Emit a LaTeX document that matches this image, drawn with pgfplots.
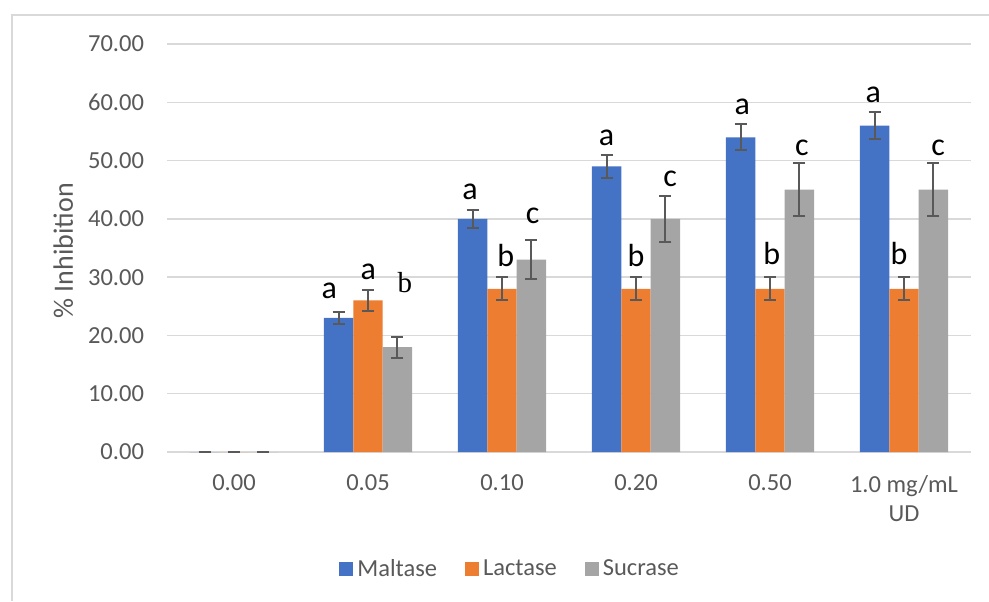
\documentclass[border=0pt]{standalone}
\usepackage{pgfplots}
\usepackage{pgfplotstable}
\pgfplotsset{compat=1.18}
\usepackage{fontspec}
\setmainfont{Carlito}
\newfontfamily\serifb{Liberation Serif}
\definecolor{maltase}{HTML}{4472C4}
\definecolor{lactase}{HTML}{ED7D31}
\definecolor{sucrase}{HTML}{A5A5A5}
\definecolor{errgray}{HTML}{595959}
\definecolor{gridgray}{HTML}{D9D9D9}
\definecolor{ticklbl}{HTML}{595959}

% x y e lx ly l
\pgfplotstableread{
x y e lx ly l
0 0 0 0 0 -
1 23 1.0 0.711 26.25 a
2 40 1.6 1.761 43.2 a
3 49 2.0 2.781 52.55 a
4 54 2.2 3.793 57.8 a
5 56 2.3 4.771 59.8 a
}\maltase
\pgfplotstableread{
x y e lx ly l
0 0 0 0 0 -
1 26 1.8 1.002 29.5 a
2 28 2.0 2.028 31.8 b
3 28 2.0 3.000 31.7 b
4 28 2.0 4.013 32.1 b
5 28 2.0 4.963 32.1 b
}\lactase
\pgfplotstableread{
x y e lx ly l
0 0 0 0 0 -
1 18 1.8 1.276 27.3 b
2 33 3.3 2.229 39.1 c
3 40 4.0 3.254 45.4 c
4 45 4.5 4.237 50.8 c
5 45 4.5 5.254 50.8 c
}\sucrase

\begin{document}
\begin{tikzpicture}
\useasboundingbox (0,0) rectangle (494.5pt,300.5pt);
\draw[gridgray, line width=1pt] (5.8pt,0) -- (5.8pt,293pt) -- (494.5pt,293pt);
\begin{axis}[
  at={(83.5pt,74.5pt)}, anchor=south west,
  scale only axis, width=402pt, height=204pt,
  ybar, bar width=0.219,
  xmin=-0.5, xmax=5.5, ymin=0, ymax=70,
  xtick={0,1,2,3,4,5},
  xticklabels={0.00,0.05,0.10,0.20,0.50,{1.0 mg/mL\\UD}},
  ytick={0,10,20,30,40,50,60,70},
  /pgf/number format/.cd, fixed, fixed zerofill, precision=2, assume math mode=true,
  /pgfplots/.cd,
  axis line style={draw=none},
  major tick length=0pt,
  ymajorgrids, grid style={gridgray, line width=0.75pt},
  tick label style={text=ticklbl, font=\fontsize{12.25}{14.7}\selectfont},
  xticklabel style={align=center, yshift=-8pt},
  yticklabel style={xshift=-8pt},
  ylabel={\% Inhibition},
  ylabel style={at={(axis description cs:-0.129,0.493)}, anchor=center, rotate=0, text=ticklbl, font=\fontsize{14}{16}\selectfont},
  legend style={at={(axis description cs:0.428,-0.287)}, anchor=center, draw=none, fill=none,
    legend columns=-1, font=\fontsize{12.25}{14}\selectfont, text=ticklbl,
    /tikz/every even column/.append style={column sep=12pt}},
  legend image code/.code={\fill[#1] (0pt,-3.5pt) rectangle (7pt,3.5pt);},
  clip=false,
  lbl/.style={forget plot, draw=none, fill=none, bar shift=0, nodes near coords, point meta=explicit symbolic,
    every node near coord/.append style={anchor=south, inner sep=0pt, text=black, font=\fontsize{16}{18}\selectfont}},
  ebar/.style={error bars/.cd, y dir=both, y explicit,
    error bar style={line width=1pt, errgray},
    error mark options={rotate=90, mark size=3pt, line width=1pt, errgray}},
]
\addplot[bar shift=-0.219, fill=maltase, draw=none, ebar]
  table[x=x, y=y, y error=e] {\maltase};
\addlegendentry{Maltase}
\addplot[bar shift=0, fill=lactase, draw=none, ebar]
  table[x=x, y=y, y error=e] {\lactase};
\addlegendentry{Lactase}
\addplot[bar shift=0.219, fill=sucrase, draw=none, ebar]
  table[x=x, y=y, y error=e] {\sucrase};
\addlegendentry{Sucrase}

\addplot[lbl, skip coords between index={0}{1}]
  table[x=lx, y=ly, meta=l] {\maltase};
\addplot[lbl, skip coords between index={0}{1}]
  table[x=lx, y=ly, meta=l] {\lactase};
\addplot[lbl, skip coords between index={0}{2}]
  table[x=lx, y=ly, meta=l] {\sucrase};
\addplot[lbl, every node near coord/.append style={font=\serifb\fontsize{14.5}{17}\selectfont},
  skip coords between index={0}{1}, skip coords between index={2}{6}]
  table[x=lx, y=ly, meta=l] {\sucrase};
\end{axis}
\end{tikzpicture}
\end{document}
